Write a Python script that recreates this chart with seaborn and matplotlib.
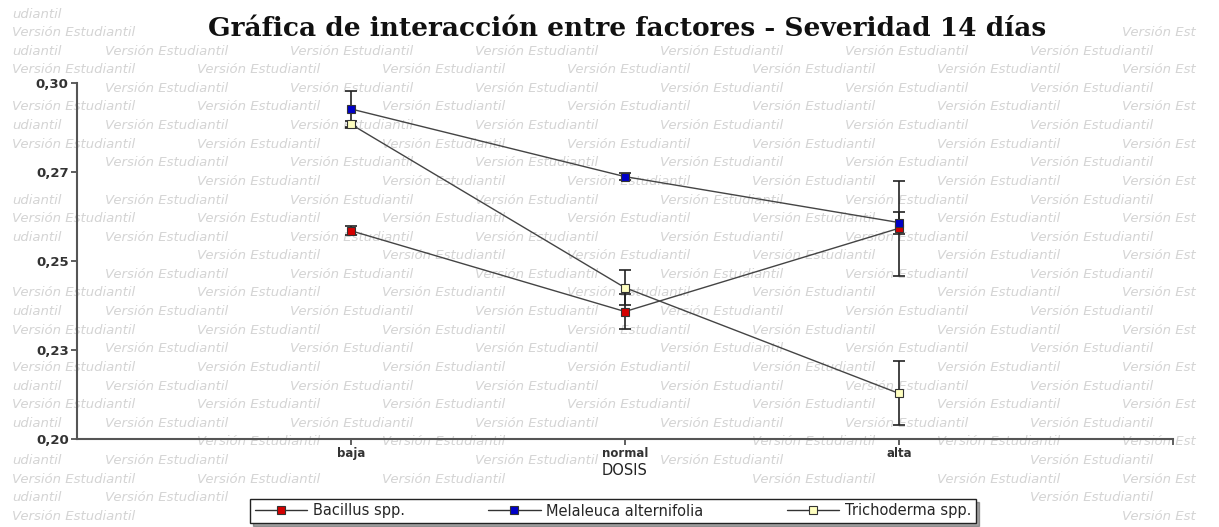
import numpy as np
import pandas as pd
import matplotlib
matplotlib.use("Agg")
import matplotlib.pyplot as plt
from matplotlib.lines import Line2D
import seaborn as sns

# datos
dosis = ["baja", "normal", "alta"]
tratamientos = ["Bacillus spp.", "Melaleuca alternifolia", "Trichoderma spp."]
bacillus = [0.2585, 0.2358, 0.2592]
bacillus_err = [0.0012, 0.0049, 0.0133]
melaleuca = [0.2927, 0.2737, 0.2608]
melaleuca_err = [0.0050, 0.0010, 0.0031]
trichoderma = [0.2884, 0.2425, 0.2128]
trichoderma_err = [0.0010, 0.0050, 0.0090]
colores = ["#d40000", "#0000c8", "#ffffc0"]

y_ticks = [0.20, 0.225, 0.25, 0.275, 0.30]
y_labels = ["0,20", "0,23", "0,25", "0,27", "0,30"]

medias = [bacillus, melaleuca, trichoderma]
errores = [bacillus_err, melaleuca_err, trichoderma_err]
rows = []
for t, m, e in zip(tratamientos, medias, errores):
    for i, d in enumerate(dosis):
        rows.append({"tratamiento": t, "dosis": d, "pos": i + 1, "media": m[i], "err": e[i]})
df = pd.DataFrame(rows)

sns.set_style("white")
plt.rcParams["font.family"] = ["DejaVu Sans"]

fig = plt.figure(figsize=(12.19, 5.27), dpi=100)
fig.patch.set_facecolor("white")

# marca de agua "Versión Estudiantil" (filas alternas desplazadas)
wm = dict(fontsize=9.5, style="italic", color="#d4d4d4", va="center", ha="left", zorder=-5)
marcas = []
for r in range(28):
    y = 1 - (14 + r * 18.6) / 527
    if r % 2 == 0:
        marcas.append(fig.text(12 / 1219, y, "udiantil", **wm))
        for k in range(6):
            marcas.append(fig.text((105 + k * 185) / 1219, y, "Versión Estudiantil", **wm))
    else:
        for k in range(6):
            marcas.append(fig.text((12 + k * 185) / 1219, y, "Versión Estudiantil", **wm))
        marcas.append(fig.text(1122 / 1219, y, "Versión Est", **wm))

ax = fig.add_axes([77 / 1219, 1 - 439 / 527, (1173 - 77) / 1219, (439 - 83) / 527])
ax.set_facecolor("none")
ax.set_zorder(1)

for t, c in zip(tratamientos, colores):
    sub = df[df["tratamiento"] == t]
    ax.errorbar(sub["pos"], sub["media"], yerr=sub["err"], fmt="none",
                ecolor="#222222", elinewidth=1.2, capsize=4, capthick=1.2, zorder=3)
    sns.lineplot(data=sub, x="pos", y="media", ax=ax, color="#444444", linewidth=1,
                 marker="s", markersize=6, markerfacecolor=c, markeredgecolor="#333333",
                 markeredgewidth=0.8, errorbar=None, zorder=4)

ax.set_xlim(0, 4)
ax.set_ylim(0.20, 0.30)
ax.set_xticks([1, 2, 3, 4])
ax.set_xticklabels(dosis + [""], fontsize=8.5, fontweight="bold", color="#333333")
ax.set_yticks(y_ticks)
ax.set_yticklabels(y_labels, fontsize=9.5, fontweight="bold", color="#333333")
ax.tick_params(axis="both", direction="out", length=4, width=1.2, color="#444444", pad=2,
               left=True, bottom=True)
ax.set_xlabel("DOSIS", fontsize=10.5, color="#222222", labelpad=2)
ax.set_ylabel("")
sns.despine(ax=ax)
for s in ["left", "bottom"]:
    ax.spines[s].set_color("#555555")
    ax.spines[s].set_linewidth(1.5)

titulo = fig.text(627 / 1219, 1 - 29 / 527,
                  "Gráfica de interacción entre factores - Severidad 14 días",
                  ha="center", va="center", fontsize=19, fontweight="bold",
                  family=["DejaVu Serif"], color="#111111")

handles = [Line2D([0], [0], color="#333333", lw=1, marker="s", markersize=6,
                  markerfacecolor=c, markeredgecolor="#333333", markeredgewidth=0.8)
           for c in colores]
leg = fig.legend(handles, tratamientos, loc="center", bbox_to_anchor=(613 / 1219, 1 - 511 / 527),
                 ncol=3, fontsize=10.5, frameon=True, fancybox=False, edgecolor="#222222",
                 handlelength=3.6, handletextpad=0.4, columnspacing=5.7, borderpad=0.3,
                 shadow=True)
leg.get_frame().set_linewidth(1)

# la marca de agua queda tapada detras del titulo, etiquetas y leyenda
fig.canvas.draw()
rend = fig.canvas.get_renderer()
tapas = [titulo.get_window_extent(rend), leg.get_window_extent(rend),
         ax.xaxis.label.get_window_extent(rend)]
tapas += [t.get_window_extent(rend) for t in ax.get_xticklabels() + ax.get_yticklabels()
          if t.get_text()]
for m in marcas:
    bb = m.get_window_extent(rend)
    if any(bb.overlaps(tb) for tb in tapas) or bb.x1 > 1219:
        m.remove()

fig.savefig("out.png", dpi=100)
